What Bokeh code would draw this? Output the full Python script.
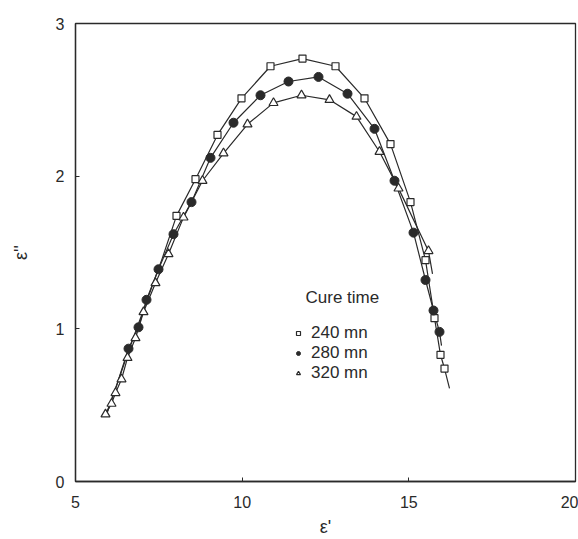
from bokeh.plotting import figure
from bokeh.models import Range1d, Legend, LegendItem, Label, FixedTicker
from bokeh.embed import file_html
from bokeh.resources import INLINE

# ---- data ----
sq_x = [8.03, 8.60, 9.26, 9.98, 10.85, 11.81, 12.80, 13.67, 14.45, 15.05, 15.50, 15.77, 15.95, 16.07]
sq_y = [1.74, 1.98, 2.27, 2.51, 2.72, 2.77, 2.72, 2.51, 2.21, 1.83, 1.45, 1.07, 0.83, 0.74]
sq_fit_x = [5.95, 6.6, 7.2, 7.6] + sq_x + [16.22]
sq_fit_y = [0.45, 0.86, 1.22, 1.46] + sq_y + [0.61]

dot_x = [6.59, 6.89, 7.13, 7.49, 7.94, 8.48, 9.05, 9.74, 10.55, 11.39, 12.29, 13.16, 13.97, 14.57, 15.14, 15.50, 15.74, 15.92]
dot_y = [0.87, 1.01, 1.19, 1.39, 1.62, 1.83, 2.12, 2.35, 2.53, 2.62, 2.65, 2.54, 2.31, 1.97, 1.63, 1.32, 1.12, 0.98]
dot_fit_x = [5.92, 6.25] + dot_x + [15.98]
dot_fit_y = [0.44, 0.64] + dot_y + [0.89]

tri_x = [5.90, 6.08, 6.20, 6.38, 6.56, 6.80, 7.04, 7.40, 7.79, 8.24, 8.81, 9.44, 10.16, 10.94, 11.78, 12.62, 13.43, 14.12, 14.69, 15.59]
tri_y = [0.44, 0.51, 0.58, 0.67, 0.81, 0.94, 1.11, 1.30, 1.49, 1.73, 1.97, 2.15, 2.34, 2.48, 2.53, 2.50, 2.39, 2.16, 1.92, 1.51]
tri_fit_x = tri_x + [15.71]
tri_fit_y = tri_y + [1.36]

series_names = ["240 mn", "280 mn", "320 mn"]
legend_title = "Cure time"
x_ticks = [5, 10, 15, 20]
y_ticks = [0, 1, 2, 3]

FONT = "Liberation Sans"
INK = "#2a2a2a"

p = figure(width=578, height=539, output_backend="svg", toolbar_location=None,
           x_range=Range1d(5, 20), y_range=Range1d(0, 3),
           min_border_left=75, min_border_right=3, min_border_top=23, min_border_bottom=58)
p.grid.visible = False
p.outline_line_color = INK
p.outline_line_width = 1.3
p.background_fill_color = "white"
p.border_fill_color = "white"

for ax in (p.xaxis[0], p.yaxis[0]):
    ax.axis_line_color = INK
    ax.axis_line_width = 1.3
    ax.major_tick_in = 4
    ax.major_tick_out = 0
    ax.major_tick_line_color = INK
    ax.minor_tick_line_color = None
    ax.major_label_text_font = FONT
    ax.major_label_text_font_size = "16px"
    ax.major_label_text_color = INK
    ax.axis_label_text_font = FONT
    ax.axis_label_text_font_size = "18px"
    ax.axis_label_text_font_style = "normal"
    ax.axis_label_text_color = INK

p.xaxis.ticker = FixedTicker(ticks=x_ticks)
p.yaxis.ticker = FixedTicker(ticks=y_ticks)
p.xaxis.axis_label = "ε'"
p.yaxis.axis_label = "ε''"
p.xaxis.major_label_standoff = 14
p.xaxis.axis_label_standoff = 6
p.yaxis.major_label_standoff = 11
p.yaxis.axis_label_standoff = 22

lw = 1.2
p.line(sq_fit_x, sq_fit_y, line_color=INK, line_width=lw)
p.line(dot_fit_x, dot_fit_y, line_color=INK, line_width=lw)
p.line(tri_fit_x, tri_fit_y, line_color=INK, line_width=lw)

r_sq = p.scatter(sq_x, sq_y, marker="square", size=7, fill_color="white", line_color=INK, line_width=1.2)
r_dot = p.scatter(dot_x, dot_y, marker="circle", size=9, fill_color=INK, line_color=INK, line_width=1)
r_tri = p.scatter(tri_x, tri_y, marker="triangle", size=9, fill_color="white", line_color=INK, line_width=1.2)

legend = Legend(items=[LegendItem(label=series_names[0], renderers=[r_sq]),
                       LegendItem(label=series_names[1], renderers=[r_dot]),
                       LegendItem(label=series_names[2], renderers=[r_tri])],
                location=(218, 98), padding=0, margin=0, spacing=0,
                glyph_width=10, glyph_height=20, label_height=20, label_standoff=8,
                border_line_color=None, background_fill_alpha=0,
                label_text_font=FONT, label_text_font_size="17px", label_text_color=INK)
p.add_layout(legend, "center")

p.add_layout(Label(x=230, y=184, x_units="screen", y_units="screen", text=legend_title,
                   text_font=FONT, text_font_size="17px", text_color=INK, text_baseline="middle"))

open("out.html", "w").write(file_html(p, INLINE))
